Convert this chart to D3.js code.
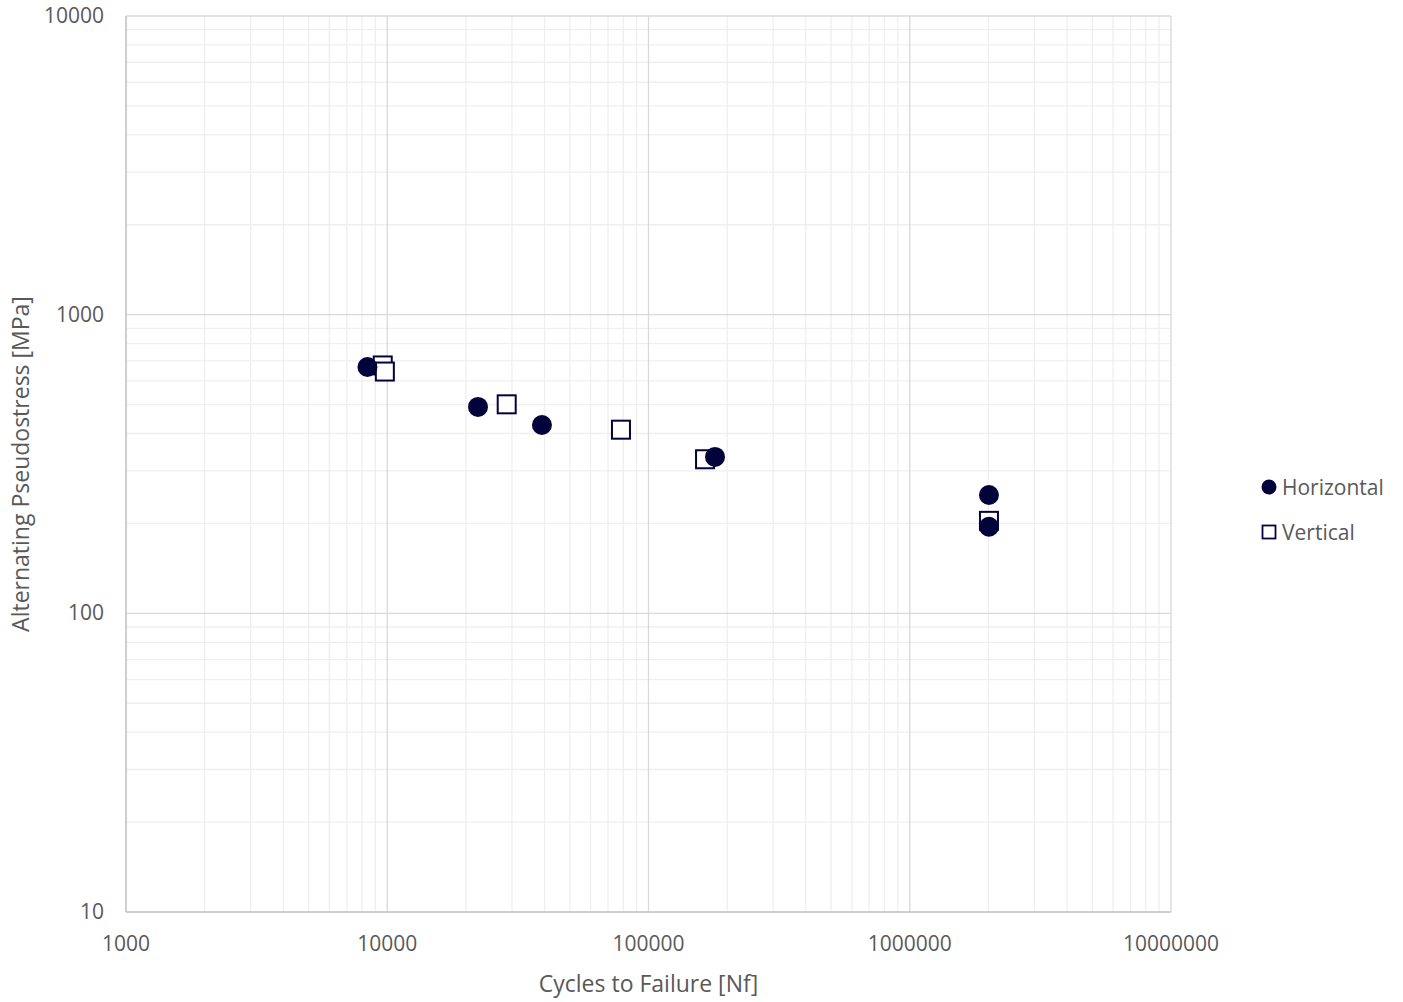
<!DOCTYPE html>
<html>
<head>
<meta charset="utf-8">
<script src="https://cdn.jsdelivr.net/npm/d3@7"></script>
<style>
  body { margin: 0; background: #fff; }
  svg { font-family: "Open Sans", "Liberation Sans", sans-serif; }
</style>
</head>
<body>
<div id="chart"></div>
<script>
const seriesNames = ['Horizontal', 'Vertical'];
const horizontalCycles = [8400, 22250, 39100, 179700, 2010000, 2010000];
const horizontalStress = [668, 491, 427, 334, 249, 195];
const verticalCycles = [9610, 9790, 28660, 78450, 164600, 2010000];
const verticalStress = [676, 645, 501, 412, 328, 204];
const xTicks = [1000, 10000, 100000, 1000000, 10000000];
const yTicks = [10, 100, 1000, 10000];

const width = 1403, height = 1002;
const margin = { left: 126, right: 232, top: 16, bottom: 90 };
const ink = '#03033b';

const svg = d3.select('#chart').append('svg')
  .attr('width', width)
  .attr('height', height);

const x = d3.scaleLog().domain([1000, 10000000]).range([margin.left, width - margin.right]);
const y = d3.scaleLog().domain([10, 10000]).range([height - margin.bottom, margin.top]);

// minor grid
const minorX = [], minorY = [];
for (let d = 1000; d < 10000000; d *= 10) for (let k = 2; k <= 9; k++) minorX.push(d * k);
for (let d = 10; d < 10000; d *= 10) for (let k = 2; k <= 9; k++) minorY.push(d * k);

const grid = svg.append('g');
grid.selectAll('.mx').data(minorX).enter().append('line')
  .attr('x1', d => x(d)).attr('x2', d => x(d))
  .attr('y1', y(10)).attr('y2', y(10000))
  .attr('stroke', '#efefef').attr('stroke-width', 1.3);
grid.selectAll('.my').data(minorY).enter().append('line')
  .attr('x1', x(1000)).attr('x2', x(10000000))
  .attr('y1', d => y(d)).attr('y2', d => y(d))
  .attr('stroke', '#efefef').attr('stroke-width', 1.3);
grid.selectAll('.Mx').data(xTicks.slice(1)).enter().append('line')
  .attr('x1', d => x(d)).attr('x2', d => x(d))
  .attr('y1', y(10)).attr('y2', y(10000))
  .attr('stroke', '#d9d9d9').attr('stroke-width', 1.3);
grid.selectAll('.My').data(yTicks.slice(1)).enter().append('line')
  .attr('x1', x(1000)).attr('x2', x(10000000))
  .attr('y1', d => y(d)).attr('y2', d => y(d))
  .attr('stroke', '#d9d9d9').attr('stroke-width', 1.3);

// axis lines
svg.append('line')
  .attr('x1', x(1000)).attr('x2', x(1000))
  .attr('y1', y(10)).attr('y2', y(10000))
  .attr('stroke', '#bfbfbf').attr('stroke-width', 1.5);
svg.append('line')
  .attr('x1', x(1000)).attr('x2', x(10000000))
  .attr('y1', y(10)).attr('y2', y(10))
  .attr('stroke', '#bfbfbf').attr('stroke-width', 1.5);

// tick labels
svg.selectAll('.xt').data(xTicks).enter().append('text')
  .attr('x', d => x(d)).attr('y', y(10) + 39)
  .attr('text-anchor', 'middle')
  .attr('font-size', 21).attr('fill', '#595959')
  .text(d => d);
svg.selectAll('.yt').data(yTicks).enter().append('text')
  .attr('x', margin.left - 22).attr('y', d => y(d) + 7)
  .attr('text-anchor', 'end')
  .attr('font-size', 21).attr('fill', '#595959')
  .text(d => d);

// axis titles
svg.append('text')
  .attr('x', (x(1000) + x(10000000)) / 2).attr('y', 992)
  .attr('text-anchor', 'middle')
  .attr('font-size', 23).attr('fill', '#595959')
  .text('Cycles to Failure [Nf]');
svg.append('text')
  .attr('transform', `translate(29, ${(y(10) + y(10000)) / 2}) rotate(-90)`)
  .attr('text-anchor', 'middle')
  .attr('font-size', 23).attr('fill', '#595959')
  .text('Alternating Pseudostress [MPa]');

// data
const vert = verticalCycles.map((c, i) => ({ c, s: verticalStress[i] }));
const horiz = horizontalCycles.map((c, i) => ({ c, s: horizontalStress[i] }));
const sq = 18;
svg.selectAll('.v').data(vert).enter().append('rect')
  .attr('x', d => x(d.c) - sq / 2).attr('y', d => y(d.s) - sq / 2)
  .attr('width', sq).attr('height', sq)
  .attr('fill', '#fff').attr('stroke', ink).attr('stroke-width', 2);
svg.selectAll('.h').data(horiz).enter().append('circle')
  .attr('cx', d => x(d.c)).attr('cy', d => y(d.s)).attr('r', 10)
  .attr('fill', ink);

// legend
const lg = svg.append('g').attr('transform', 'translate(1269, 487)');
lg.append('circle').attr('cx', 0).attr('cy', 0).attr('r', 7.5).attr('fill', ink);
lg.append('text').attr('x', 13).attr('y', 7.5).attr('font-size', 21).attr('fill', '#595959').text(seriesNames[0]);
lg.append('rect').attr('x', -6.5).attr('y', 38.5).attr('width', 13).attr('height', 13)
  .attr('fill', '#fff').attr('stroke', ink).attr('stroke-width', 1.8);
lg.append('text').attr('x', 13).attr('y', 52.5).attr('font-size', 21).attr('fill', '#595959').text(seriesNames[1]);
</script>
</body>
</html>
